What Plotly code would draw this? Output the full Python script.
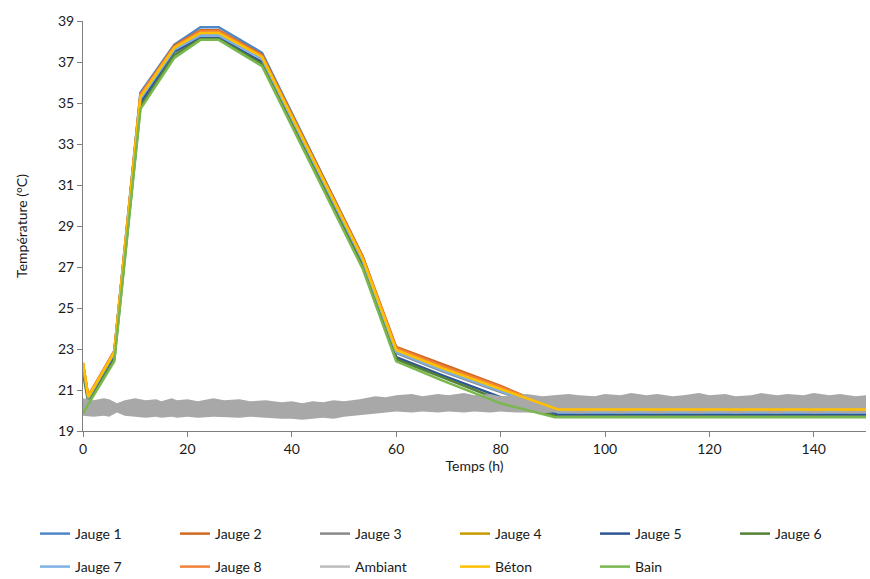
import plotly.graph_objects as go

# ---- data ----
T = [0, 1, 6, 11, 17.5, 22.5, 26, 34.3, 53.6, 60, 69, 80, 91, 150]

jauge1 = [22.2, 20.6, 22.9, 35.5, 37.85, 38.70, 38.70, 37.45, 27.5, 22.9, 22.0, 21.0, 19.85, 19.85]
jauge2 = [22.3, 20.7, 22.9, 35.4, 37.80, 38.55, 38.55, 37.35, 27.5, 23.1, 22.25, 21.2, 20.0, 20.0]
jauge3 = [22.2, 20.6, 22.8, 35.2, 37.65, 38.35, 38.35, 37.20, 27.3, 22.8, 21.9, 20.9, 19.95, 19.95]
jauge4 = [22.3, 20.65, 22.85, 35.3, 37.70, 38.45, 38.45, 37.25, 27.4, 22.95, 22.05, 21.0, 20.0, 20.0]
jauge5 = [22.1, 20.55, 22.7, 35.0, 37.50, 38.18, 38.18, 37.00, 27.15, 22.6, 21.7, 20.65, 19.8, 19.8]
jauge6 = [21.8, 20.4, 22.5, 34.8, 37.35, 38.12, 38.12, 36.90, 27.0, 22.5, 21.6, 20.5, 19.7, 19.7]
jauge7 = [22.2, 20.6, 22.8, 35.2, 37.60, 38.30, 38.30, 37.15, 27.3, 22.85, 21.95, 20.95, 19.9, 19.9]
jauge8 = [22.3, 20.7, 22.9, 35.4, 37.75, 38.50, 38.50, 37.30, 27.45, 23.05, 22.15, 21.15, 20.0, 20.0]
beton  = [22.35, 20.65, 22.85, 35.3, 37.70, 38.42, 38.42, 37.25, 27.4, 22.95, 22.05, 21.05, 20.05, 20.05]
T_bain = [0, 1, 6, 11, 17.5, 22.5, 26, 34.3, 53.6, 60, 69, 80, 90.4, 150]
bain   = [19.85, 20.3, 22.4, 34.7, 37.20, 38.08, 38.08, 36.80, 26.9, 22.4, 21.45, 20.35, 19.67, 19.67]

# ambient temperature: upper / lower envelope of the noisy band
T_amb = [0, 2, 4, 5, 6.5, 8, 10, 12, 14, 15, 17, 18, 20, 22, 25, 27, 30, 32, 35, 38, 40, 42, 44,
         46, 48, 50, 53, 56, 58, 60, 63, 65, 68, 70, 73, 75, 78, 80, 83, 85, 88, 90, 93, 95, 98,
         100, 103, 105, 108, 110, 113, 115, 118, 120, 123, 125, 128, 130, 133, 135, 138, 140,
         143, 145, 148, 150]
amb_hi = [20.6, 20.5, 20.6, 20.55, 20.35, 20.5, 20.6, 20.5, 20.55, 20.45, 20.6, 20.5, 20.55,
          20.45, 20.6, 20.5, 20.55, 20.45, 20.5, 20.4, 20.45, 20.35, 20.45, 20.4, 20.5, 20.45,
          20.55, 20.7, 20.65, 20.75, 20.8, 20.7, 20.8, 20.75, 20.85, 20.75, 20.8, 20.7, 20.75,
          20.8, 20.7, 20.75, 20.8, 20.75, 20.7, 20.8, 20.75, 20.85, 20.75, 20.8, 20.7, 20.75,
          20.85, 20.75, 20.8, 20.7, 20.75, 20.85, 20.75, 20.8, 20.75, 20.85, 20.75, 20.8, 20.7, 20.75]
amb_lo = [19.75, 19.7, 19.75, 19.7, 19.9, 19.75, 19.7, 19.65, 19.7, 19.65, 19.7, 19.65, 19.7,
          19.65, 19.7, 19.7, 19.65, 19.7, 19.65, 19.6, 19.6, 19.55, 19.6, 19.65, 19.6, 19.7,
          19.8, 19.85, 19.9, 19.95, 19.9, 19.95, 19.9, 19.95, 19.9, 19.95, 19.9, 19.95, 19.9,
          19.9, 19.85, 19.9, 19.9, 19.85, 19.9, 19.9, 19.85, 19.9, 19.9, 19.85, 19.9, 19.9,
          19.85, 19.9, 19.9, 19.85, 19.9, 19.9, 19.85, 19.9, 19.9, 19.85, 19.9, 19.9, 19.85, 19.9]

x_ticks = [0, 20, 40, 60, 80, 100, 120, 140]
y_ticks = [19, 21, 23, 25, 27, 29, 31, 33, 35, 37, 39]

FONT = "Lato"
TXT = "#1a1a1a"

fig = go.Figure()

def line(x, y, name, color, legend):
    fig.add_trace(go.Scatter(x=x, y=y, name=name, mode="lines",
                             line=dict(color=color, width=2.5), legend=legend))

line(T, jauge1, "Jauge 1", "#4F87C6", "legend")
line(T, jauge2, "Jauge 2", "#D2691F", "legend")
line(T, jauge3, "Jauge 3", "#8A8A8A", "legend")
line(T, jauge4, "Jauge 4", "#C99A00", "legend2")
line(T, jauge5, "Jauge 5", "#2F5597", "legend2")
line(T, jauge6, "Jauge 6", "#538135", "legend2")
line(T, jauge7, "Jauge 7", "#7EB1E3", "legend3")
line(T, jauge8, "Jauge 8", "#F2823A", "legend3")

# ambient band
fig.add_trace(go.Scatter(x=T_amb + T_amb[::-1], y=amb_hi + amb_lo[::-1], mode="lines",
                         fill="toself", fillcolor="#A8A8A8", line=dict(width=0),
                         showlegend=False, hoverinfo="skip", legend="legend3"))
fig.add_trace(go.Scatter(x=[None], y=[None], mode="lines", name="Ambiant",
                         line=dict(color="#BDBDBD", width=2.5), legend="legend3"))

line(T, beton, "Béton", "#FFC000", "legend4")
line(T_bain, bain, "Bain", "#7AB84F", "legend4")

W, H = 870, 579
ml, mr, mt, mb = 83, 4, 21, 148
STEP = 140

leg_common = dict(orientation="h", xanchor="left", yanchor="middle",
                  xref="container", yref="container",
                  font=dict(family=FONT, size=14, color=TXT),
                  entrywidth=STEP - 45, entrywidthmode="pixels",
                  bgcolor="rgba(0,0,0,0)", itemwidth=30, traceorder="normal")

fig.update_layout(
    template="none",
    width=W, height=H,
    margin=dict(l=ml, r=mr, t=mt, b=mb),
    paper_bgcolor="white", plot_bgcolor="white",
    font=dict(family=FONT, size=14, color=TXT),
    xaxis=dict(range=[0, 150], tickvals=x_ticks, showgrid=False, zeroline=False,
               automargin=False,
               showline=True, linecolor="#7F7F7F", linewidth=1,
               ticks="outside", ticklen=5, tickcolor="#7F7F7F",
               tickfont=dict(family=FONT, size=14, color=TXT),
               title=dict(text="Temps (h)", font=dict(family=FONT, size=14, color=TXT), standoff=3)),
    yaxis=dict(range=[19, 39], tickvals=y_ticks, showgrid=False, zeroline=False,
               automargin=False,
               showline=True, linecolor="#7F7F7F", linewidth=1,
               ticks="outside", ticklen=5, tickcolor="#7F7F7F",
               tickfont=dict(family=FONT, size=14, color=TXT),
               title=dict(text="Température (°C)", font=dict(family=FONT, size=14, color=TXT), standoff=27)),
    legend=dict(x=35 / W, y=1 - 534 / H, **leg_common),
    legend2=dict(x=(35 + 3 * STEP) / W, y=1 - 534 / H, **leg_common),
    legend3=dict(x=35 / W, y=1 - 567 / H, **leg_common),
    legend4=dict(x=(35 + 3 * STEP) / W, y=1 - 567 / H, **leg_common),
)

fig.write_html("out.html",
               config={"displayModeBar": False},
               post_script="document.body.style.margin='0';document.body.style.overflow='hidden';")
